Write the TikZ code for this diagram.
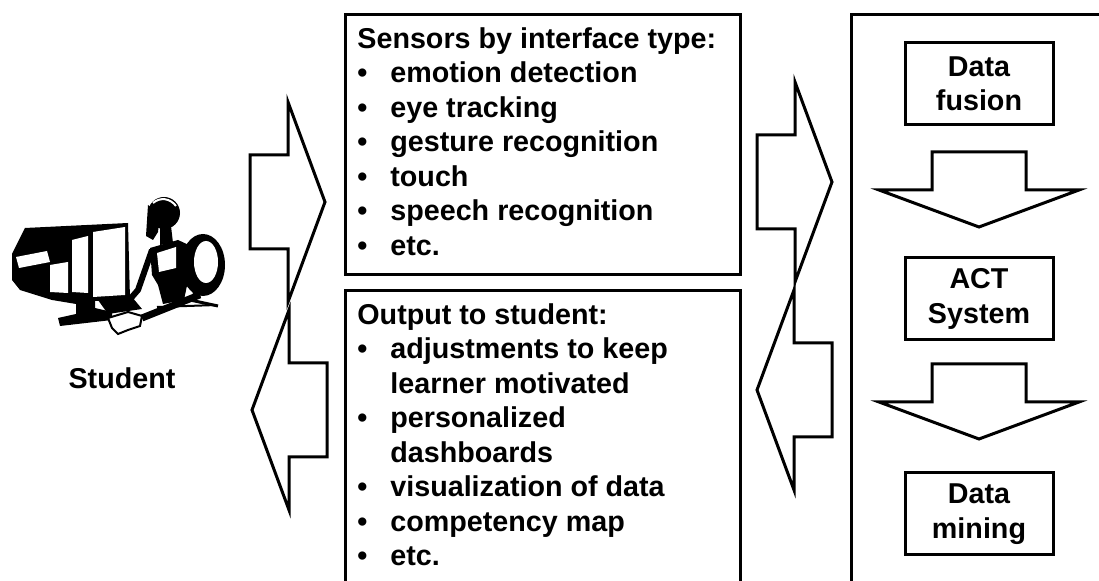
\documentclass[tikz,border=0pt]{standalone}
\usepackage{fontspec}
\setmainfont{Liberation Sans}
\usetikzlibrary{positioning}

\tikzset{
  panel/.style={draw,line width=1.5pt,anchor=north west,inner sep=0pt},
  stagebox/.style={draw,line width=1.5pt,minimum width=74pt,minimum height=41pt,align=center,inner sep=0pt},
  listtext/.style={align=left,inner sep=0pt},
  clipart/.style={fill=black,draw=none},
  % hollow block arrow, tip at the origin, pointing along +x
  blockarrow/.pic={
    \draw[line width=1.5pt,fill=white] (0,0) -- (-37,-100) -- (-37,-47) -- (-75,-47)
      -- (-75,47) -- (-37,47) -- (-37,100) -- cycle;
    \coordinate (-tip) at (0,0);
  }
}
\newcommand{\bul}{\makebox[16.5pt][l]{\textbullet}}
\newcommand{\cont}{\hspace*{16.5pt}}

\begin{document}
\begin{tikzpicture}[x=0.5pt,y=-0.5pt,line join=miter,
  every node/.style={font=\bfseries\fontsize{14.35pt}{17.25pt}\selectfont}]
\useasboundingbox (0,0) rectangle (1099,581);
\clip (0,0) rectangle (1099,581);

% student at the computer
\begin{scope}[clipart]
  % monitor
  \fill (12,254) -- (25,228) -- (128,223) -- (130,299) -- (95,301) -- (95,308) -- (112,312) -- (112,320)
    -- (60,326) -- (58,318) -- (76,314) -- (76,304) -- (52,300) -- (20,290) -- (12,280) -- cycle;
  \fill[white] (93,232) -- (125,227) -- (125,295) -- (93,297) -- cycle;
  \fill[white] (72,240) -- (88,236) -- (88,293) -- (72,292) -- cycle;
  \fill[white] (16,257) -- (47,251) -- (50,262) -- (19,268) -- cycle;
  \fill[white] (50,265) -- (68,262) -- (68,293) -- (50,292) -- cycle;
  % keyboard and hand
  \fill (98,300) -- (132,297) -- (142,309) -- (108,314) -- cycle;
  \filldraw[fill=white,draw=black,line width=1pt] (108,318) -- (128,312) -- (142,316) -- (140,326)
    -- (128,330) -- (118,334) -- (112,328) -- cycle;
  % chair back
  \fill (203,265) ellipse[x radius=22,y radius=31];
  \fill[white] (206,262) ellipse[x radius=12,y radius=21];
  \draw[line width=1.5pt] (190,300) -- (218,306);
  % head and hair
  \fill (164,213) ellipse[x radius=16,y radius=16];
  \fill (148,205) -- (146,236) -- (153,240) -- (158,232) -- (160,215) -- cycle;
  \draw[white,line width=1pt] (153,203) .. controls (160,197) and (170,198) .. (176,206);
  % neck and body
  \fill (160,226) -- (171,226) -- (173,243) -- (160,245) -- cycle;
  \fill (150,248) -- (178,240) -- (191,246) -- (189,276) -- (184,300) -- (163,304) -- (158,285) -- (152,275) -- cycle;
  \fill[white] (157,253) -- (176,247) -- (176,268) -- (159,272) -- cycle;
  % arms
  \draw[line width=3pt] (152,250) -- (138,290) -- (131,298);
  \draw[line width=3.5pt] (188,258) -- (197,296) -- (142,318);
  % desk
  \draw[line width=1pt] (157,307) -- (217,305);
\end{scope}
\node (student) at (122,378) {Student};

% sensing and feedback panels
\node[panel,minimum width=197.5pt,minimum height=130pt] (sensors) at (344,13) {};
\node[listtext,below right=7pt and 6.5pt of sensors.north west,anchor=north west] (sensorlist) {%
  Sensors by interface type:\\
  \bul emotion detection\\
  \bul eye tracking\\
  \bul gesture recognition\\
  \bul touch\\
  \bul speech recognition\\
  \bul etc.};

\node[panel,minimum width=197.5pt,minimum height=160pt] (output) at (344,289) {};
\node[listtext,below right=7pt and 6.5pt of output.north west,anchor=north west] (outputlist) {%
  Output to student:\\
  \bul adjustments to keep\\
  \cont learner motivated\\
  \bul personalized\\
  \cont dashboards\\
  \bul visualization of data\\
  \bul competency map\\
  \bul etc.};

% ACT system column
\node[panel,minimum width=140pt,minimum height=300pt] (system) at (850,13) {};
\node[stagebox] (fusion) at (979,84) {Data\\fusion};
\node[stagebox,below=65pt of fusion] (act) {ACT\\System};
\node[stagebox,below=65pt of act] (mining) {Data\\mining};

% block arrows between student, panels and stages
\pic (tosensors) at (325,202) {blockarrow};
\pic[rotate=180] (tostudent) at (252,410) {blockarrow};
\pic (tosystem) at (832,182) {blockarrow};
\pic[rotate=180] (tooutput) at (757,390) {blockarrow};
\pic[rotate=270] (fusiontoact) at (979,227) {blockarrow};
\pic[rotate=270] (acttomining) at (979,439) {blockarrow};
\end{tikzpicture}
\end{document}
